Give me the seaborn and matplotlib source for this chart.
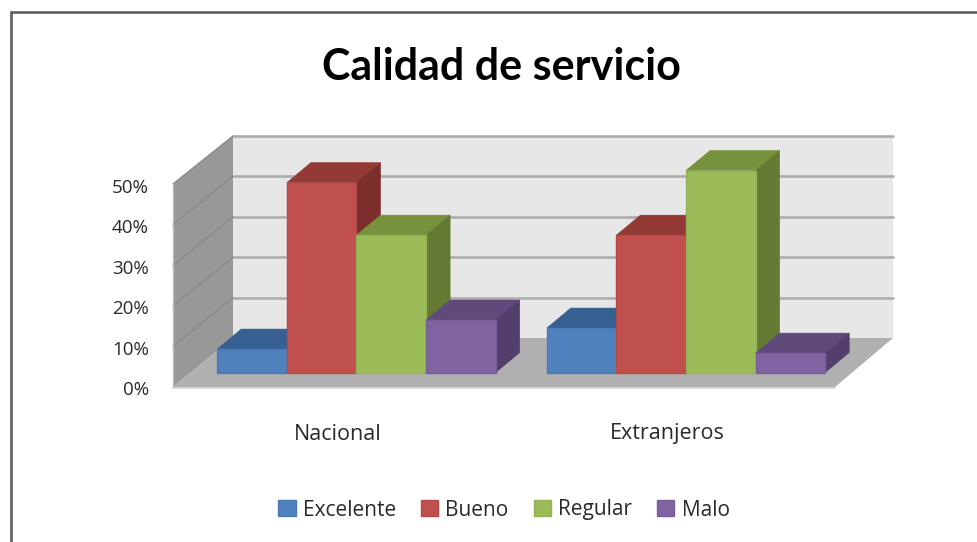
import matplotlib
matplotlib.use("Agg")
import matplotlib.pyplot as plt
from matplotlib.patches import Polygon, Patch, Rectangle
from matplotlib.lines import Line2D
from matplotlib.transforms import Affine2D
import pandas as pd
import seaborn as sns

# ---- data ----
title = "Calidad de servicio"
origins = ["Nacional", "Extranjeros"]
ratings = ["Excelente", "Bueno", "Regular", "Malo"]
nacional = [5.8, 47.0, 34.0, 13.0]
extranjeros = [11.0, 34.0, 50.0, 4.8]
y_ticks = [0, 10, 20, 30, 40, 50]
front_colors = ["#4f81bd", "#c0504d", "#9bbb59", "#8064a2"]
top_colors = ["#376092", "#933a37", "#76923c", "#604a7b"]
side_colors = ["#2f527c", "#7b2e2b", "#647a33", "#533f6b"]
edge_colors = ["#4a7ab3", "#b54a47", "#92b153", "#785e99"]

W, H = 978, 542
sns.set_theme(style="white")
plt.rcParams["font.family"] = ["Lato", "DejaVu Sans"]
label_font = ["Open Sans", "DejaVu Sans"]

fig = plt.figure(figsize=(W / 100, H / 100), dpi=100, facecolor="white")
ax = fig.add_axes([0, 0, 1, 1])

df = pd.DataFrame({
    "Origen": [o for o in origins for _ in ratings],
    "Calidad": ratings * 2,
    "Valor": nacional + extranjeros,
})
sns.barplot(data=df, x="Origen", y="Valor", hue="Calidad", order=origins,
            hue_order=ratings, palette=front_colors, saturation=1,
            width=0.845, gap=0, legend=False, ax=ax)
bars = sorted([p for p in ax.patches if isinstance(p, Rectangle) and p.get_height() > 0],
              key=lambda b: b.get_x())

# one category = 329.5 px, one percent = 4.04 px; bars start from (356.5, 372.5)
ux, uy = 329.5, 4.04
ox, oy = 356.5, 372.5
ax.set_xlim(-ox / ux, (W - ox) / ux)
ax.set_ylim((oy - H) / uy, oy / uy)
ax.axis("off")

px = Affine2D().scale(1, -1).translate(0, H)  # reference pixels to display

def chrome(points, **kw):
    ax.add_patch(Polygon(points, closed=True, transform=px, linewidth=0, **kw))

# walls and floor
LX, RX, BLX, BRX = 173, 835, 233, 893
FY, BY, TOPB, TOPF = 387, 338, 136, 184
chrome([(BLX, TOPB), (BRX, TOPB), (BRX, BY), (BLX, BY)], facecolor="#e7e7e7", zorder=0.1)
chrome([(LX, TOPF), (BLX, TOPB), (BLX, BY), (LX, FY)], facecolor="#989898", zorder=0.1)
chrome([(LX, FY), (BLX, BY), (BRX, BY), (RX, FY)], facecolor="#b0b0b0", zorder=0.2)
step_back = (BY - TOPB) / 5
step_front = (FY - TOPF) / 5
for k in range(1, 6):
    yb = BY - k * step_back
    yf = FY - k * step_front
    ax.add_line(Line2D([BLX, BRX], [yb, yb], transform=px, color="#adadad", lw=1.9, zorder=0.3))
    ax.add_line(Line2D([LX, BLX], [yf, yb], transform=px, color="#8a8a8a", lw=1.0, zorder=0.3))
ax.add_line(Line2D([LX, RX], [FY + 1, FY + 1], transform=px, color="#cfcfcf", lw=1.2, zorder=0.3))
ax.add_line(Line2D([LX, LX], [TOPF, FY], transform=px, color="#bcbcbc", lw=1.0, zorder=0.3))

# 3-D depth built on the bars that seaborn drew
dx, dy = 24 / ux, 20 / uy
for i, bar in enumerate(bars):
    c = i % 4
    x0, x1, h = bar.get_x(), bar.get_x() + bar.get_width(), bar.get_height()
    z = 1 + i * 0.1
    bar.set_zorder(z + 0.02)
    bar.set_edgecolor(edge_colors[c])
    bar.set_linewidth(1.0)
    ax.add_patch(Polygon([(x0, h), (x1, h), (x1 + dx, h + dy), (x0 + dx, h + dy)],
                         facecolor=top_colors[c], edgecolor=top_colors[c], lw=0.4, zorder=z))
    ax.add_patch(Polygon([(x1, 0), (x1 + dx, dy), (x1 + dx, h + dy), (x1, h)],
                         facecolor=side_colors[c], edgecolor=side_colors[c], lw=0.4, zorder=z))

# frame of the chart area
ax.add_line(Line2D([11, W], [12, 12], transform=px, color="#5f5f5f", lw=1.9, zorder=5))
ax.add_line(Line2D([11, 11], [12, H], transform=px, color="#5f5f5f", lw=1.9, zorder=5))

# text
txt = "#2a2a2a"
ax.text(501, 67, title, transform=px, ha="center", va="center", fontsize=31,
        fontweight="bold", color="black", zorder=6)
for k, v in enumerate(y_ticks):
    ax.text(149, 390 - k * 40.4, f"{v}%", transform=px, ha="right", va="center",
            fontsize=13.5, color=txt, family=label_font, zorder=6)
for i, name in enumerate(origins):
    x_disp = ax.transData.transform((i, 0))[0]
    ax.text(x_disp - 19, 434, name, transform=px, ha="center", va="center",
            fontsize=15.5, color=txt, family=label_font, zorder=6)

handles = [Patch(facecolor=front_colors[i], edgecolor=edge_colors[i], lw=1.0) for i in range(4)]
leg = fig.legend(handles, ratings, ncol=4, loc="center", bbox_to_anchor=(504 / W, 1 - 510 / H),
                 frameon=False, prop={"family": label_font, "size": 15},
                 handlelength=0.82, handleheight=0.82,
                 handletextpad=0.35, columnspacing=1.2, labelcolor=txt)

fig.savefig("out.png", dpi=100, facecolor="white")
